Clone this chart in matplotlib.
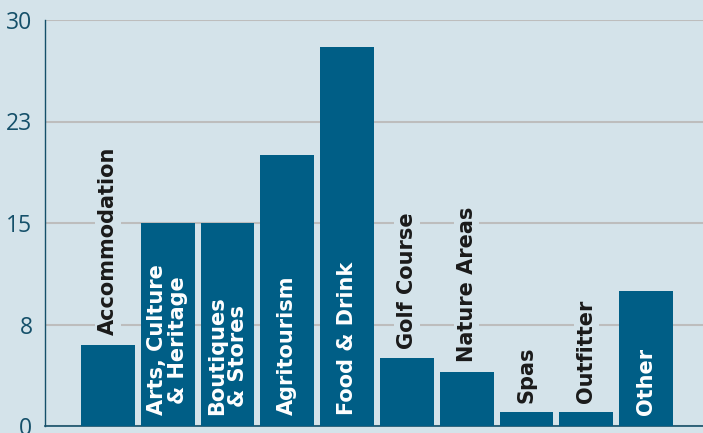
import matplotlib
matplotlib.use("Agg")
import matplotlib.pyplot as plt
import numpy as np

categories = ["Accommodation", "Arts, Culture\n& Heritage", "Boutiques\n& Stores",
              "Agritourism", "Food & Drink", "Golf Course", "Nature Areas",
              "Spas", "Outfitter", "Other"]
values = [6, 15, 15, 20, 28, 5, 4, 1, 1, 10]
label_inside = [False, True, True, True, True, False, False, False, False, True]
yticks = [0, 7.5, 15, 22.5, 30]
ytick_labels = ["0", "8", "15", "23", "30"]

BG = "#d4e3ea"
BAR = "#005e86"
TXT = "#15506a"

fig = plt.figure(figsize=(7.03, 4.33), dpi=100, facecolor=BG)
ax = fig.add_axes([45 / 703, 7 / 433, 658 / 703, 406 / 433])
ax.set_facecolor(BG)

x = np.arange(len(categories))
ax.bar(x, values, width=0.9, color=BAR, zorder=3)

ax.set_xlim(-1.05, 9.95)
ax.set_ylim(0, 30)
ax.set_yticks(yticks)
ax.set_yticklabels(ytick_labels, fontsize=16.5, color=TXT, family="Open Sans")
ax.tick_params(axis="y", length=0, pad=9)
ax.set_xticks([])
ax.grid(axis="y", color="#bdbdbd", linewidth=1.5, zorder=0)
for s in ["top", "right"]:
    ax.spines[s].set_visible(False)
ax.spines["left"].set_color(TXT)
ax.spines["bottom"].set_color(TXT)
ax.spines["left"].set_linewidth(1.0)
ax.spines["bottom"].set_linewidth(1.2)

for xi, v, lab, inside in zip(x, values, categories, label_inside):
    if inside:
        ax.text(xi, 0.8, lab, rotation=90, ha="center", va="bottom",
                fontsize=15, fontweight="bold", color="white",
                linespacing=1.1, zorder=4)
    else:
        ax.text(xi, v + 0.7, lab, rotation=90, ha="center", va="bottom",
                fontsize=15, fontweight="bold", color="#1a1a1a",
                linespacing=1.1, zorder=4,
                bbox=dict(facecolor=BG, edgecolor="none", pad=2))

fig.savefig("out.png", dpi=100, facecolor=BG)
